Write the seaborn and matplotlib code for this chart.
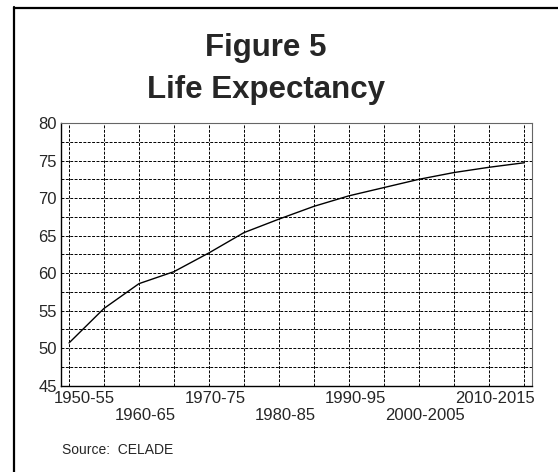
import matplotlib
matplotlib.use("Agg")
import matplotlib.pyplot as plt
import matplotlib.transforms as mtransforms
from matplotlib.lines import Line2D
import seaborn as sns
import pandas as pd

# Life expectancy by five-year period
periods = ["1950-55", "1955-60", "1960-65", "1965-70", "1970-75", "1975-80",
           "1980-85", "1985-90", "1990-95", "1995-2000", "2000-2005",
           "2005-2010", "2010-2015", "2015-2020"]
life_exp = [50.7, 55.3, 58.6, 60.2, 62.7, 65.4, 67.2, 68.9, 70.3, 71.4,
            72.5, 73.4, 74.1, 74.7]
upper_labels = ["1950-55", "1970-75", "1990-95", "2010-2015"]
lower_labels = ["1960-65", "1980-85", "2000-2005"]
y_ticks = [45, 50, 55, 60, 65, 70, 75, 80]

df = pd.DataFrame({"idx": range(len(periods)), "period": periods, "le": life_exp})

sns.set_style("white")
plt.rcParams["font.family"] = ["Liberation Sans", "DejaVu Sans"]

fig = plt.figure(figsize=(5.58, 4.72), dpi=100)
ax = fig.add_axes([0.1093, 0.1828, 0.8441, 0.5566])

sns.lineplot(data=df, x="idx", y="le", color="black", linewidth=1.0, ax=ax)

ax.set_xlim(-0.23, 13.23)
ax.set_ylim(45, 80)

# dashed grid: every period vertically, every 2.5 years horizontally
dash = (0, (3, 1.5))
for i in df["idx"]:
    ax.axvline(i, color="black", linestyle=dash, linewidth=0.7, zorder=0)
for k in range(15):
    ax.axhline(45 + 2.5 * k, color="black", linestyle=dash, linewidth=0.7, zorder=0)

# alternating two-row period labels
ax.set_xticks([0, 4, 8, 12])
ax.set_xticklabels(upper_labels, fontsize=12)
ax.set_xticks([2, 6, 10], minor=True)
ax.set_xticklabels(lower_labels, minor=True, fontsize=12)
ax.set_yticks(y_ticks)
ax.set_yticklabels([str(v) for v in y_ticks], fontsize=12)
ax.tick_params(axis="both", which="both", length=0)
ax.tick_params(axis="x", which="major", pad=4)
ax.tick_params(axis="x", which="minor", pad=16)
ax.tick_params(axis="y", pad=3)

for lab in ax.get_xticklabels(minor=False) + ax.get_xticklabels(minor=True):
    dx = 15 if lab.get_text() == "1950-55" else 6
    lab.set_transform(lab.get_transform() +
                      mtransforms.ScaledTranslation(dx / 100, 0, fig.dpi_scale_trans))

ax.set_xlabel("")
ax.set_ylabel("")
for side in ["left", "bottom"]:
    ax.spines[side].set_color("black")
    ax.spines[side].set_linewidth(1.0)
for side in ["top", "right"]:
    ax.spines[side].set_color("#666666")
    ax.spines[side].set_linewidth(0.8)

fig.text(266 / 558, 1 - 48 / 472, "Figure 5", ha="center", va="center",
         fontsize=22.5, fontweight="bold")
fig.text(266 / 558, 1 - 90 / 472, "Life Expectancy", ha="center", va="center",
         fontsize=22.5, fontweight="bold")
fig.text(62 / 558, 1 - 450 / 472, "Source:  CELADE", ha="left", va="center", fontsize=10)

# outer frame (only the left and top edges are visible)
fig.add_artist(Line2D([13.5 / 558, 13.5 / 558], [0, 1 - 7 / 472], color="black",
                      linewidth=1.6, transform=fig.transFigure))
fig.add_artist(Line2D([13.5 / 558, 1], [1 - 7.5 / 472, 1 - 7.5 / 472], color="black",
                      linewidth=1.6, transform=fig.transFigure))

fig.savefig("out.png", dpi=100)
